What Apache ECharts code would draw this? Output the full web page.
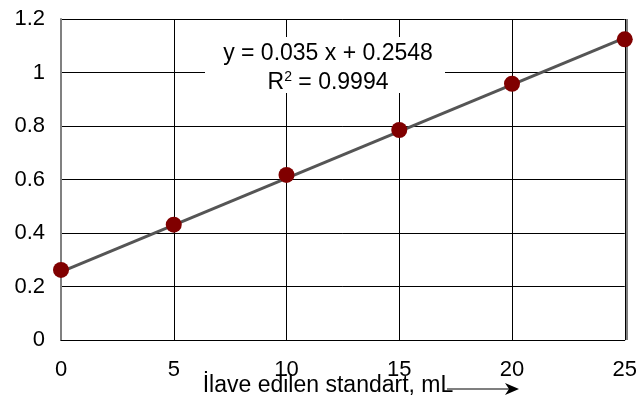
<!DOCTYPE html>
<html lang="tr">
<head>
    <meta charset="UTF-8">
    <title>Standart ekleme</title>
    <script src="https://cdn.jsdelivr.net/npm/echarts@6/dist/echarts.min.js"></script>
    <style>
        html, body { margin: 0; padding: 0; background: #fff; }
        #chart { width: 640px; height: 405px; }
    </style>
</head>
<body>
<div id="chart"></div>
<script type="text/javascript">
    // ilave edilen standart (mL) ve okunan sinyal
    var hacim = [0, 5, 10, 15, 20, 25];
    var sinyal = [0.262, 0.431, 0.617, 0.785, 0.958, 1.124];
    // trend cizgisi uclari (denklemden)
    var trendX = [0, 25];
    var trendY = [0.2548, 1.1298];
    var xTicks = [0, 5, 10, 15, 20, 25];
    var yTicks = [0, 0.2, 0.4, 0.6, 0.8, 1, 1.2];

    var font = 'Liberation Sans';
    var myChart = echarts.init(document.getElementById('chart'));

    var option = {
        backgroundColor: '#fff',
        animation: false,
        grid: { left: 61, right: 13, top: 19, bottom: 65, containLabel: false },
        xAxis: {
            type: 'value',
            min: xTicks[0],
            max: xTicks[xTicks.length - 1],
            interval: 5,
            axisLine: { show: true, lineStyle: { color: '#000', width: 1 } },
            axisTick: { show: false },
            axisLabel: { color: '#000', fontSize: 22, fontFamily: font, margin: 19 },
            splitLine: { show: true, lineStyle: { color: '#000', width: 1 } }
        },
        yAxis: {
            type: 'value',
            min: yTicks[0],
            max: yTicks[yTicks.length - 1],
            interval: 0.2,
            axisLine: { show: true, lineStyle: { color: '#808080', width: 2 } },
            axisTick: { show: false },
            axisLabel: {
                color: '#000', fontSize: 22, fontFamily: font, margin: 16,
                formatter: function (v) { return String(Math.round(v * 10) / 10); }
            },
            splitLine: { show: true, lineStyle: { color: '#000', width: 1 } }
        },
        graphic: [
            // sag kenar
            {
                type: 'line', z: 1,
                shape: { x1: 627, y1: 19, x2: 627, y2: 340 },
                style: { stroke: '#000', lineWidth: 1 }
            },
            // denklem kutusu
            {
                type: 'rect', z: 50,
                shape: { x: 205, y: 37, width: 240, height: 56 },
                style: { fill: '#fff' }
            },
            {
                type: 'text', z: 51, x: 328, y: 54,
                style: {
                    text: 'y = 0.035 x + 0.2548',
                    fill: '#000', fontSize: 23, fontFamily: font,
                    textAlign: 'center', textVerticalAlign: 'middle'
                }
            },
            {
                type: 'text', z: 51, x: 328, y: 82,
                style: {
                    text: '{a|R}{s|2}{a| = 0.9994}',
                    textAlign: 'center', textVerticalAlign: 'middle',
                    rich: {
                        a: { fill: '#000', fontSize: 23, fontFamily: font, verticalAlign: 'bottom' },
                        s: { fill: '#000', fontSize: 14, fontFamily: font, verticalAlign: 'top', padding: [0, 0, 10, 0] }
                    }
                }
            },
            // eksen basligi ve ok
            {
                type: 'text', x: 328, y: 386,
                style: {
                    text: 'İlave edilen standart, mL',
                    fill: '#000', fontSize: 23, fontFamily: font,
                    textAlign: 'center', textVerticalAlign: 'middle'
                }
            },
            {
                type: 'line',
                shape: { x1: 447, y1: 389, x2: 510, y2: 389 },
                style: { stroke: '#000', lineWidth: 1.2 }
            },
            {
                type: 'polygon',
                shape: { points: [[519, 389], [505, 383], [509, 389], [505, 395]] },
                style: { fill: '#000' }
            }
        ],
        series: [
            {
                type: 'line',
                data: trendX.map(function (x, i) { return [x, trendY[i]]; }),
                showSymbol: false,
                lineStyle: { color: '#555', width: 3 },
                z: 3
            },
            {
                type: 'scatter',
                data: hacim.map(function (x, i) { return [x, sinyal[i]]; }),
                symbol: 'circle',
                symbolSize: 16,
                itemStyle: { color: '#800000', opacity: 1 },
                z: 4
            }
        ]
    };
    myChart.setOption(option);
</script>
</body>
</html>
